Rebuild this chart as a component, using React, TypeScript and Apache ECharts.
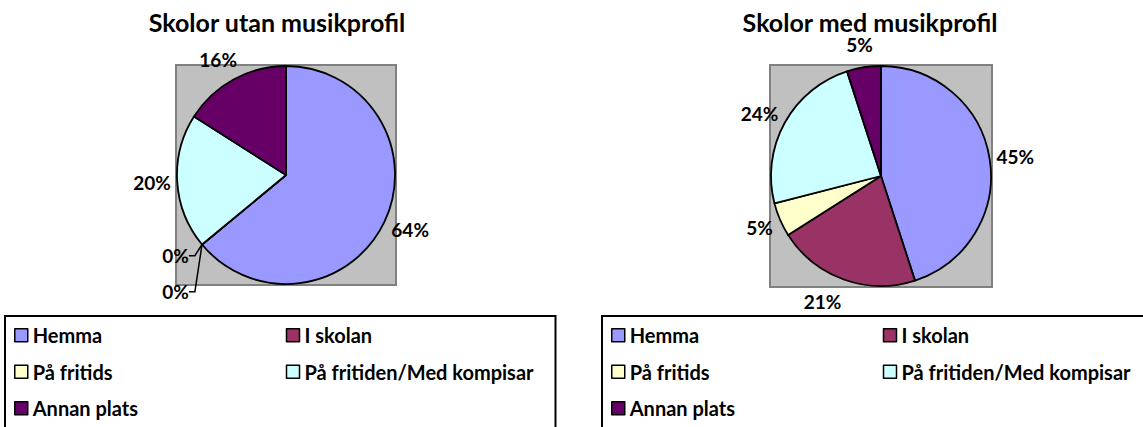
import React, { useEffect, useRef } from "react";
import * as echarts from "echarts";

const categories = ["Hemma", "I skolan", "På fritids", "På fritiden/Med kompisar", "Annan plats"];
const colors = ["#9999FF", "#993366", "#FFFFCC", "#CCFFFF", "#660066"];
const utanValues = [64, 0, 0, 20, 16];
const medValues = [45, 21, 5, 24, 5];
const titles = ["Skolor utan musikprofil", "Skolor med musikprofil"];

const FONT = "Lato";
type Pie = { cx: number; cy: number; r: number };
const LEFT_PIE: Pie = { cx: 286, cy: 175, r: 109 };
const RIGHT_PIE: Pie = { cx: 881, cy: 176, r: 110 };

function buildData(values: number[]) {
  return categories.map((name, i) => {
    const item: any = { name, value: values[i], itemStyle: { color: colors[i] } };
    if (values[i] === 0) {
      item.labelLine = { show: true, lineStyle: { color: "#000", width: 1.5 } };
    }
    return item;
  });
}

// Excel-like "best fit": label box sits just outside the circle on the slice's mid-angle
function makeLabelLayout(pie: Pie, values: number[]) {
  const total = values.reduce((a, b) => a + b, 0);
  return (params: any) => {
    const i = params.dataIndex;
    let before = 0;
    for (let k = 0; k < i; k++) before += values[k];
    const mid = ((before + values[i] / 2) / total) * Math.PI * 2;
    const ux = Math.sin(mid);
    const uy = -Math.cos(mid);
    const w = params.labelRect.width;
    const h = params.labelRect.height;
    const out: any = { align: "center", verticalAlign: "middle" };
    if (values[i] !== 0) {
      const gap = 6 + 8 * Math.abs(uy);
      out.x = pie.cx + ux * (pie.r + gap) + (ux * w) / 2 + (uy > 0.8 ? ux * 30 : 0);
      out.y = pie.cy + uy * (pie.r + gap) + (uy * h) / 2;
      return out;
    }
    // zero-value labels: stacked downward with leader lines to the slice edge
    let zeroRank = 0;
    for (let k = i - 1; k >= 0 && values[k] === 0; k--) zeroRank++;
    const gap = 8;
    const x = pie.cx + ux * (pie.r + gap) + (ux * w) / 2 - 10;
    const y = pie.cy + uy * (pie.r + gap) + (uy * h) / 2 + zeroRank * h * 1.9;
    const ex = pie.cx + ux * pie.r;
    const ey = pie.cy + uy * pie.r;
    const right = x + w / 2;
    out.x = x;
    out.y = y;
    out.labelLinePoints = [
      [ex, ey],
      [right + 6, y],
      [right, y],
    ];
    return out;
  };
}

function pieSeries(pie: Pie, values: number[]) {
  return {
    type: "pie",
    center: [pie.cx, pie.cy],
    radius: pie.r,
    startAngle: 90,
    clockwise: true,
    silent: true,
    avoidLabelOverlap: false,
    itemStyle: { borderColor: "#000", borderWidth: 1.8 },
    label: {
      show: true,
      position: "outside",
      formatter: "{c}%",
      fontFamily: FONT,
      fontWeight: "bold",
      fontSize: 19,
      color: "#000",
    },
    labelLine: { show: false, length: 4, length2: 0 },
    labelLayout: makeLabelLayout(pie, values),
    data: buildData(values),
  };
}

function plotRect(pie: Pie) {
  return {
    type: "rect",
    shape: { x: pie.cx - pie.r - 1, y: pie.cy - pie.r - 1, width: 2 * pie.r + 2, height: 2 * pie.r + 2 },
    style: { fill: "#C0C0C0", stroke: "#808080", lineWidth: 2 },
    silent: true,
  };
}

function legendAt(left: number, padRight: number) {
  return {
    data: categories,
    left,
    top: 316,
    orient: "horizontal",
    width: 560,
    itemWidth: 13,
    itemHeight: 13,
    itemGap: 8,
    icon: "rect",
    selectedMode: false,
    padding: [5, padRight, 30, 9],
    borderColor: "#000",
    borderWidth: 2,
    itemStyle: { borderColor: "#000", borderWidth: 1.5 },
    textStyle: {
      fontFamily: FONT,
      fontWeight: "bold",
      fontSize: 20,
      color: "#000",
      width: 245,
      lineHeight: 28.5,
      overflow: "none",
    },
  };
}

function titleAt(text: string, center: number) {
  return {
    text,
    left: center,
    top: 10.5,
    padding: 0,
    textAlign: "center",
    textStyle: { fontFamily: FONT, fontWeight: "bold", fontSize: 25, lineHeight: 22, color: "#000" },
  };
}

export default function App() {
  const ref = useRef<HTMLDivElement>(null);
  useEffect(() => {
    document.body.style.margin = "0";
    document.body.style.overflow = "hidden";
    const chart = echarts.init(ref.current!, null, { renderer: "svg" });
    chart.setOption({
      animation: false,
      backgroundColor: "#FFFFFF",
      title: [titleAt(titles[0], 277), titleAt(titles[1], 870)],
      graphic: [plotRect(LEFT_PIE), plotRect(RIGHT_PIE)],
      legend: [legendAt(5, 6), legendAt(602, 80)],
      series: [pieSeries(LEFT_PIE, utanValues), pieSeries(RIGHT_PIE, medValues)],
    });
    return () => chart.dispose();
  }, []);
  return <div ref={ref} style={{ width: 1143, height: 427 }} />;
}
